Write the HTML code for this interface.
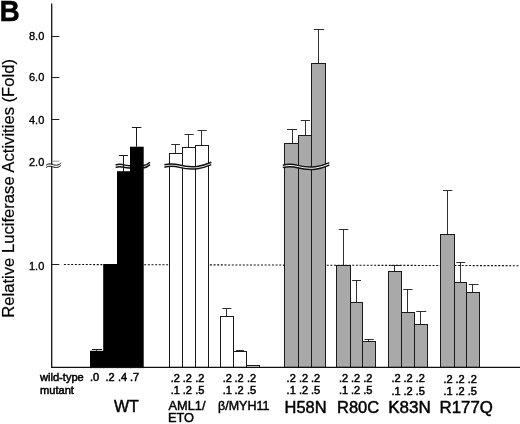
<!DOCTYPE html>
<html><head><meta charset="utf-8"><title>B</title><style>html,body{margin:0;padding:0;background:#fff}</style></head><body>
<svg width="520" height="424" viewBox="0 0 520 424" style="display:block;font-family:'Liberation Sans',sans-serif">
<rect width="520" height="424" fill="#fff"/>
<path d="M63.9 264.5L520 265.7" stroke="#111" stroke-width="1.1" stroke-dasharray="2 1.65" fill="none"/>
<path d="M115.6 166.20C118 165.30 121 165.20 124 166.10S128.5 167.00 131 166.80" stroke="#fff" stroke-width="2.4" fill="none"/><path d="M115.6 165.00C118 164.10 121 164.00 124 164.90S128.5 165.80 131 165.60" stroke="#111" stroke-width="1.5" fill="none"/><path d="M115.6 167.40C118 166.50 121 166.40 124 167.30S128.5 168.20 131 168.00" stroke="#111" stroke-width="1.5" fill="none"/>

<path d="M143 166.90C146 166.60 148 165.20 150 163.40" stroke="#fff" stroke-width="2.4" fill="none"/><path d="M143 165.70C146 165.40 148 164.00 150 162.20" stroke="#111" stroke-width="1.5" fill="none"/><path d="M143 168.10C146 167.80 148 166.40 150 164.60" stroke="#111" stroke-width="1.5" fill="none"/>

<rect x="90" y="350.8" width="14.00" height="17.30" fill="#000"/>
<path d="M96.50 350.8V349.5M92 349.5H102" stroke="#1a1a1a" stroke-width="1" fill="none"/>

<rect x="103.2" y="264" width="14.80" height="104.10" fill="#000"/>

<rect x="117" y="171.2" width="14.00" height="196.90" fill="#000"/>
<path d="M123.50 171.2V155.5M118.9 155.5H128" stroke="#1a1a1a" stroke-width="1" fill="none"/>

<rect x="130" y="146.7" width="13.70" height="221.40" fill="#000"/>
<path d="M136.50 146.7V127.5M131.9 127.5H141.4" stroke="#1a1a1a" stroke-width="1" fill="none"/>

<rect x="169.5" y="153.5" width="13.00" height="213.90" fill="#fff" stroke="#1a1a1a" stroke-width="1"/>
<path d="M175.50 153.5V144.5M171.2 144.5H180" stroke="#1a1a1a" stroke-width="0.9" fill="none"/>

<rect x="182.5" y="147.5" width="13.00" height="219.90" fill="#fff" stroke="#1a1a1a" stroke-width="1"/>
<path d="M188.50 147.5V134.5M184.5 134.5H193.75" stroke="#1a1a1a" stroke-width="0.9" fill="none"/>

<rect x="195.5" y="145.5" width="13.00" height="221.90" fill="#fff" stroke="#1a1a1a" stroke-width="1"/>
<path d="M201.50 145.5V130.5M197.5 130.5H206.7" stroke="#1a1a1a" stroke-width="0.9" fill="none"/>

<rect x="220.5" y="316.5" width="13.00" height="50.90" fill="#fff" stroke="#1a1a1a" stroke-width="1"/>
<path d="M226.50 316.5V308.5M222.4 308.5H231.4" stroke="#1a1a1a" stroke-width="0.9" fill="none"/>

<rect x="233.5" y="351.5" width="13.00" height="15.90" fill="#fff" stroke="#1a1a1a" stroke-width="1"/>
<path d="M239.50 351.5V350.5M236 350.5H244" stroke="#1a1a1a" stroke-width="0.9" fill="none"/>

<rect x="246.5" y="365.5" width="13.00" height="1.90" fill="#fff" stroke="#1a1a1a" stroke-width="1"/>
<path d="M252.50 365.5V365.5M249 365.5H257.5" stroke="#1a1a1a" stroke-width="0.9" fill="none"/>

<rect x="284.5" y="143.5" width="14.00" height="223.90" fill="#a9a9a9" stroke="#1a1a1a" stroke-width="1"/>
<path d="M292.50 143.5V129.5M287 129.5H297" stroke="#1a1a1a" stroke-width="0.9" fill="none"/>

<rect x="298.5" y="135.5" width="13.00" height="231.90" fill="#a9a9a9" stroke="#1a1a1a" stroke-width="1"/>
<path d="M305.50 135.5V120.5M300.75 120.5H310" stroke="#1a1a1a" stroke-width="0.9" fill="none"/>

<rect x="311.5" y="63.5" width="14.00" height="303.90" fill="#a9a9a9" stroke="#1a1a1a" stroke-width="1"/>
<path d="M318.50 63.5V29.5M313.75 29.5H324.2" stroke="#1a1a1a" stroke-width="0.9" fill="none"/>

<rect x="336.5" y="265.5" width="14.00" height="101.90" fill="#a9a9a9" stroke="#1a1a1a" stroke-width="1"/>
<path d="M343.50 265.5V229.5M338.75 229.5H348.3" stroke="#1a1a1a" stroke-width="0.9" fill="none"/>

<rect x="350.5" y="302.5" width="12.00" height="64.90" fill="#a9a9a9" stroke="#1a1a1a" stroke-width="1"/>
<path d="M356.50 302.5V280.5M352 280.5H361" stroke="#1a1a1a" stroke-width="0.9" fill="none"/>

<rect x="362.5" y="341.5" width="13.00" height="25.90" fill="#a9a9a9" stroke="#1a1a1a" stroke-width="1"/>
<path d="M368.50 341.5V339.5M364.5 339.5H373.75" stroke="#1a1a1a" stroke-width="0.9" fill="none"/>

<rect x="388.5" y="271.5" width="13.00" height="95.90" fill="#a9a9a9" stroke="#1a1a1a" stroke-width="1"/>
<path d="M394.50 271.5V265.5M390.75 265.5H400" stroke="#1a1a1a" stroke-width="0.9" fill="none"/>

<rect x="401.5" y="312.5" width="13.00" height="54.90" fill="#a9a9a9" stroke="#1a1a1a" stroke-width="1"/>
<path d="M407.50 312.5V289.5M403.25 289.5H412.5" stroke="#1a1a1a" stroke-width="0.9" fill="none"/>

<rect x="414.5" y="324.5" width="13.00" height="42.90" fill="#a9a9a9" stroke="#1a1a1a" stroke-width="1"/>
<path d="M420.50 324.5V311.5M416.25 311.5H426.25" stroke="#1a1a1a" stroke-width="0.9" fill="none"/>

<rect x="440.5" y="234.5" width="14.00" height="132.90" fill="#a9a9a9" stroke="#1a1a1a" stroke-width="1"/>
<path d="M447.50 234.5V190.5M443 190.5H452.3" stroke="#1a1a1a" stroke-width="0.9" fill="none"/>

<rect x="454.5" y="282.5" width="12.00" height="84.90" fill="#a9a9a9" stroke="#1a1a1a" stroke-width="1"/>
<path d="M460.50 282.5V262.5M456.3 262.5H465.2" stroke="#1a1a1a" stroke-width="0.9" fill="none"/>

<rect x="466.5" y="292.5" width="13.00" height="74.90" fill="#a9a9a9" stroke="#1a1a1a" stroke-width="1"/>
<path d="M472.50 292.5V284.5M468.8 284.5H478.4" stroke="#1a1a1a" stroke-width="0.9" fill="none"/>

<path d="M51.7 3.5V367.4H520" stroke="#111" stroke-width="1.3" fill="none"/>
<path d="M51.7 36.5H59.3" stroke="#222" stroke-width="1"/>
<path d="M51.7 77.5H59.3" stroke="#222" stroke-width="1"/>
<path d="M51.7 119.5H59.3" stroke="#222" stroke-width="1"/>
<path d="M51.7 264.5H59.3" stroke="#222" stroke-width="1"/>
<path d="M51.7 161.2H59.5" stroke="#888" stroke-width="0.9"/>
<path d="M46.1 166.45C47.5 164.95 49.5 164.75 52 165.45S56 166.75 58 166.05S60.3 164.85 61 163.95" stroke="#fff" stroke-width="2.3" fill="none"/><path d="M46.1 165.30C47.5 163.80 49.5 163.60 52 164.30S56 165.60 58 164.90S60.3 163.70 61 162.80" stroke="#111" stroke-width="1.0" fill="none"/><path d="M46.1 167.60C47.5 166.10 49.5 165.90 52 166.60S56 167.90 58 167.20S60.3 166.00 61 165.10" stroke="#111" stroke-width="1.0" fill="none"/>

<path d="M164.4 166.00 C168.15 165.10 173.78 164.70 179.41 166.20 S190.20 168.40 197.23 167.60 S208.02 164.80 211.3 163.40" stroke="#fff" stroke-width="2.4" fill="none"/>
<path d="M164.4 164.80 C168.15 163.90 173.78 163.50 179.41 165.00 S190.20 167.20 197.23 166.40 S208.02 163.60 211.3 162.20" stroke="#111" stroke-width="1.5" fill="none"/>
<path d="M164.4 167.20 C168.15 166.30 173.78 165.90 179.41 167.40 S190.20 169.60 197.23 168.80 S208.02 166.00 211.3 164.60" stroke="#111" stroke-width="1.5" fill="none"/>

<path d="M282.8 166.40 C286.52 165.50 292.10 165.10 297.68 166.60 S308.38 168.80 315.35 168.00 S326.05 165.20 329.3 163.80" stroke="#fff" stroke-width="2.4" fill="none"/>
<path d="M282.8 165.20 C286.52 164.30 292.10 163.90 297.68 165.40 S308.38 167.60 315.35 166.80 S326.05 164.00 329.3 162.60" stroke="#111" stroke-width="1.5" fill="none"/>
<path d="M282.8 167.60 C286.52 166.70 292.10 166.30 297.68 167.80 S308.38 170.00 315.35 169.20 S326.05 166.40 329.3 165.00" stroke="#111" stroke-width="1.5" fill="none"/>

<g fill="#000" stroke="#000" stroke-width="0.5">
<text x="29" y="40.4" font-size="11" stroke-width="0.35">8.0</text>
<text x="29" y="81.3" font-size="11" stroke-width="0.35">6.0</text>
<text x="29" y="123.6" font-size="11" stroke-width="0.35">4.0</text>
<text x="29" y="166" font-size="11" stroke-width="0.35">2.0</text>
<text x="29" y="269.6" font-size="11" stroke-width="0.35">1.0</text>
<text transform="translate(13.8 317.7) rotate(-90)" font-size="16.3" stroke-width="0.2" textLength="258.7" lengthAdjust="spacingAndGlyphs">Relative Luciferase Activities (Fold)</text>
<text transform="translate(-0.6 21.3) scale(0.97 1)" font-size="29" font-weight="bold" stroke-width="0.4">B</text>
<text x="40" y="381.3" font-size="11.1">wild-type</text>
<text x="40" y="393.5" font-size="11.1">mutant</text>
<text x="90" y="381.2" font-size="11">.0</text><text x="105.5" y="381.26" font-size="11">.2</text><text x="118" y="381.31" font-size="11">.4</text><text x="130" y="381.35" font-size="11">.7</text>
<text x="170.7" y="381.51" font-size="11">.2</text><text x="182.7" y="381.55" font-size="11">.2</text><text x="195.2" y="381.6" font-size="11">.2</text>
<text x="170.7" y="393.71" font-size="11">.1</text><text x="182.7" y="393.75" font-size="11">.2</text><text x="195.2" y="393.8" font-size="11">.5</text>
<text x="222.7" y="381.7" font-size="11">.2</text><text x="234.5" y="381.75" font-size="11">.2</text><text x="247" y="381.79" font-size="11">.2</text>
<text x="222.7" y="393.9" font-size="11">.1</text><text x="234.5" y="393.95" font-size="11">.2</text><text x="247" y="393.99" font-size="11">.5</text>
<text x="286.6" y="381.94" font-size="11">.2</text><text x="299" y="381.99" font-size="11">.2</text><text x="311" y="382.04" font-size="11">.2</text>
<text x="286.6" y="394.14" font-size="11">.1</text><text x="299" y="394.19" font-size="11">.2</text><text x="311" y="394.24" font-size="11">.5</text>
<text x="339" y="382.14" font-size="11">.2</text><text x="351" y="382.19" font-size="11">.2</text><text x="363.3" y="382.23" font-size="11">.2</text>
<text x="339" y="394.34" font-size="11">.1</text><text x="351" y="394.39" font-size="11">.2</text><text x="363.3" y="394.43" font-size="11">.5</text>
<text x="391.4" y="382.34" font-size="11">.2</text><text x="403.4" y="382.39" font-size="11">.2</text><text x="415.7" y="382.43" font-size="11">.2</text>
<text x="391.4" y="394.54" font-size="11">.1</text><text x="403.4" y="394.59" font-size="11">.2</text><text x="415.7" y="394.63" font-size="11">.5</text>
<text x="443.5" y="382.54" font-size="11">.2</text><text x="455.5" y="382.58" font-size="11">.2</text><text x="467.8" y="382.63" font-size="11">.2</text>
<text x="443.5" y="394.74" font-size="11">.1</text><text x="455.5" y="394.78" font-size="11">.2</text><text x="467.8" y="394.83" font-size="11">.5</text>
</g><g fill="#000" stroke="#000" stroke-width="0.45">
<text x="113.9" y="412.3" font-size="16">WT</text>
<text x="168.5" y="409.6" font-size="12.8">AML1/</text>
<text x="168" y="422.4" font-size="12.8">ETO</text>
<text x="218" y="409.6" font-size="12.5">β/MYH11</text>
<text x="284.6" y="412.5" font-size="16" textLength="42" lengthAdjust="spacingAndGlyphs">H58N</text>
<text x="337" y="412.7" font-size="16" textLength="42.2" lengthAdjust="spacingAndGlyphs">R80C</text>
<text x="388.2" y="412.8" font-size="16" textLength="42.6" lengthAdjust="spacingAndGlyphs">K83N</text>
<text x="439.5" y="412.8" font-size="16" textLength="53.4" lengthAdjust="spacingAndGlyphs">R177Q</text>
</g>
</svg>
</body></html>
